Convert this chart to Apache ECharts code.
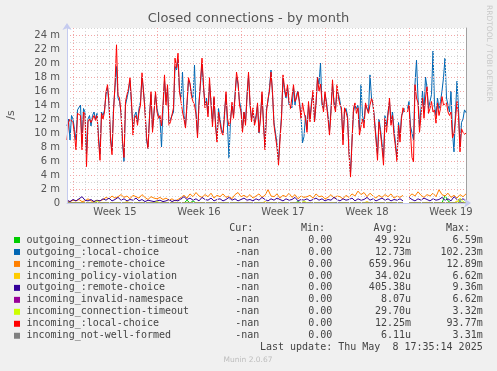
<!DOCTYPE html>
<html><head><meta charset="utf-8">
<script src="https://cdn.jsdelivr.net/npm/echarts@6/dist/echarts.min.js"></script>
<style>html,body{margin:0;padding:0;background:#f0f0f0}#c{width:497px;height:371px}</style>
</head><body><div id="c"></div>
<script>
// ---- data (values in milli-units per second) ----
const weekLabels = ['Week 15', 'Week 16', 'Week 17', 'Week 18', 'Week 19'];

// main series: one point per 3 h
const outgoingLocalChoice = [
 11.0,12.0,9.0,12.5,12.0,10.5,9.0,13.3,13.5,14.0,
 8.5,13.5,13.0,7.0,12.0,12.5,11.0,12.5,13.0,12.0,
 12.8,9.5,7.0,13.0,12.5,13.3,15.5,16.5,14.0,9.5,
 7.5,13.5,16.5,19.5,15.0,14.5,13.0,8.5,5.9,14.0,
 15.0,16.0,17.5,14.0,10.5,12.5,13.0,11.5,13.5,14.5,
 18.0,16.0,13.5,9.0,7.8,12.5,15.5,10.5,13.0,15.5,
 13.5,12.5,12.0,8.0,13.5,17.5,14.5,16.5,11.5,12.0,
 12.0,13.0,19.5,19.0,20.5,16.0,15.0,18.7,12.5,11.0,
 14.0,17.5,17.0,15.5,15.0,19.7,13.0,9.8,14.5,17.0,
 20.0,16.5,14.0,15.0,12.8,17.0,14.5,11.5,15.0,11.5,
 9.0,13.5,12.0,10.5,10.0,13.0,15.5,11.0,6.4,12.0,
 14.0,12.5,15.5,18.0,17.0,14.5,13.5,10.5,13.0,11.5,
 15.5,18.3,14.0,12.0,13.0,11.5,12.5,14.0,10.0,12.5,
 15.5,11.5,8.0,13.5,14.5,16.5,19.0,15.5,11.5,10.0,
 8.5,6.0,9.5,12.5,17.8,16.0,15.0,16.5,14.0,14.0,
 13.6,16.5,14.0,15.5,16.0,14.5,12.5,8.6,9.5,12.5,
 10.5,14.0,12.0,14.5,15.5,11.6,14.0,18.0,17.0,20.0,
 14.0,13.5,15.5,14.5,12.5,10.2,13.5,17.0,14.5,13.5,
 16.0,15.5,14.5,13.0,9.0,13.0,13.5,12.5,7.5,4.2,
 9.0,13.0,14.0,13.5,14.0,10.5,16.9,12.5,11.5,14.0,
 14.0,13.0,18.3,15.0,14.0,12.0,9.5,7.0,12.0,10.5,
 8.5,6.5,12.5,11.0,13.0,14.5,11.5,13.0,10.5,8.5,
 6.5,11.5,9.5,12.5,13.0,13.5,null,13.5,14.5,11.0,
 10.0,9.0,17.0,20.4,15.0,11.0,13.5,16.0,13.0,18.0,
 16.5,13.5,14.5,15.5,21.7,14.0,12.5,15.0,13.5,14.5,
 16.0,17.9,20.7,15.0,14.0,13.0,16.0,10.0,7.3,13.0,
 17.4,13.5,8.0,11.5,12.0,13.3,12.9];
const incomingLocalChoice = [
 9.0,11.5,12.0,12.0,11.5,9.7,7.6,12.8,13.0,12.5,
 7.6,13.0,12.6,5.2,11.6,12.0,11.5,12.0,12.5,11.8,
 12.5,9.0,6.1,12.8,12.0,13.0,15.9,16.9,14.5,9.0,
 6.9,13.0,17.0,22.6,15.4,15.0,12.8,9.0,6.5,14.5,
 15.5,16.4,17.9,14.5,9.7,12.1,12.5,11.1,13.0,14.0,
 18.6,15.9,13.0,9.5,7.8,12.1,15.9,10.1,12.8,15.9,
 13.0,12.1,12.5,11.0,14.0,18.3,14.0,16.9,11.1,11.6,
 11.6,13.6,20.7,19.3,21.4,15.9,14.5,13.0,12.0,10.7,
 14.3,17.9,17.1,15.2,14.5,14.0,12.7,9.3,14.0,17.5,
 20.7,16.9,13.6,14.5,12.3,17.9,14.1,10.9,15.2,11.0,
 8.7,13.0,11.5,10.1,9.7,12.5,15.9,12.1,11.0,11.6,
 14.4,12.1,15.0,18.7,17.3,14.0,13.0,10.1,13.0,11.1,
 15.0,18.7,14.5,11.6,13.6,11.1,12.0,14.3,10.1,12.1,
 15.9,11.1,7.6,13.0,14.9,16.0,18.7,15.9,11.1,9.5,
 7.9,5.4,9.0,12.1,18.3,16.5,15.2,16.9,14.5,13.5,
 13.6,16.9,14.5,15.0,15.9,14.1,12.1,14.3,13.0,12.0,
 10.1,14.5,11.6,14.0,16.1,11.6,14.3,17.9,16.0,17.0,
 14.5,13.0,15.9,14.0,12.1,9.7,13.0,17.6,14.0,13.0,
 16.9,15.0,14.0,13.6,8.3,13.6,13.0,12.1,7.0,3.7,
 8.7,13.6,14.3,12.8,13.6,9.7,11.0,12.0,10.7,14.3,
 13.5,12.8,14.0,14.9,14.3,11.6,9.0,6.1,11.6,10.0,
 7.9,5.4,12.1,10.1,12.5,15.0,11.1,12.5,9.7,8.0,
 5.9,11.1,8.7,12.1,13.6,13.0,null,13.0,14.0,10.0,
 6.5,5.9,16.9,15.0,14.3,10.1,12.5,15.0,12.1,15.0,
 16.6,12.8,13.5,14.5,13.0,13.3,11.4,14.3,12.5,13.5,
 15.2,14.0,14.0,14.3,13.0,12.5,13.0,9.3,10.0,12.0,
 14.5,12.5,7.3,10.6,10.1,9.8,10.0];

// minor series: one point per 6 h
const outgoingConnTimeout = [
 0,0,0,0,0,0,0,0,0,0, 0,0,0,0,0,0,0,0,0,0, 0,0,0,0,0,0,0,0,0,0, 0,0,0,0,0,0,0,0,0,0,
 0.4,0,0.3,0,0,0,0,0,0,0, 0,0,0,0,0,0,0,0,0,0, 0,0,0,0,0,0,0,0,0,0, 0,0,0,0,0,0,0,0.2,0,0,
 0,0,0,0,0,0,0,0,0,0, 0,0,0,0,0,0,0,0,0,0, 0,0,0,0,0,0,0,0,0,0, 0,0,0,null,0,0,0,0,0,0,
 0,0,0,0,0,0,1.1,0.3,0,0, 0,0.2,0,0];
const incomingRemoteChoice = [
 0.3,0.2,0.4,0.3,0.5,0.2,0.3,0.6,0.3,0.2, 0.4,0.3,0.5,0.8,0.6,1.0,0.7,0.9,1.2,0.8,
 1.0,0.6,1.1,0.9,0.7,1.2,0.8,0.5,0.9,0.7, 0.6,0.8,0.5,0.7,0.4,0.6,0.3,0.5,0.8,1.1,
 0.7,1.3,0.9,1.5,1.0,0.8,1.2,0.9,1.4,0.7, 1.1,0.9,1.3,0.8,1.0,0.6,1.2,1.5,0.9,1.1,
 0.8,1.2,0.7,1.0,1.3,0.8,1.1,1.9,1.0,0.9, 1.3,0.7,1.1,0.9,1.4,0.8,1.2,0.6,1.0,0.8,
 0.9,1.1,0.7,1.3,0.9,1.0,0.6,0.8,1.2,0.7, 1.0,0.9,0.6,1.1,0.8,1.3,1.0,1.7,1.2,1.5,
 0.9,1.4,1.0,0.7,1.1,0.8,1.2,0.9,1.3,0.7, 1.0,0.8,1.1,null,0.9,1.3,1.0,1.6,1.1,0.8,
 1.2,1.0,1.4,0.9,1.9,1.2,1.0,1.4,0.8,1.1, 0.7,1.2,0.9,1.3];
const incomingPolicyViolation = [
 0,0,0,0,0,0.1,0,0,0,0, 0,0,0,0,0,0,0,0,0,0, 0.2,0,0,0,0,0,0,0,0,0, 0,0,0,0,0,0,0,0,0,0,
 0,0,0,0,0,0,0,0,0,0, 0.1,0,0,0,0,0,0,0,0,0, 0,0,0,0,0,0,0.2,0,0,0, 0,0,0,0,0,0,0,0,0,0,
 0,0,0,0,0,0.1,0,0,0,0, 0,0,0,0,0,0,0,0,0,0, 0.2,0,0,0,0,0,0,0,0,0, 0,0,0,null,0,0,0,0,0,0,
 0.1,0,0,0,0,0,0,0,0,0, 0.3,0,0,0];
const outgoingRemoteChoice = [
 0.4,0.2,0.5,0.3,0.6,0.9,0.4,0.3,0.5,0.2, 0.4,0.3,0.6,0.4,0.7,0.3,0.5,0.8,0.4,0.6,
 0.3,0.5,0.4,0.7,0.3,0.5,0.2,0.4,0.3,0.2, 0.3,0.4,0.2,0.3,0.5,0.2,0.4,0.3,0.6,0.9,
 0.5,0.7,0.4,0.6,0.3,0.8,0.5,0.4,0.7,0.3, 0.5,0.6,0.3,0.5,0.8,0.4,0.6,0.3,0.5,0.7,
 0.4,0.5,0.3,0.6,0.4,0.8,0.5,0.3,0.6,0.4, 0.7,0.5,0.3,0.6,0.4,0.5,0.8,0.3,0.5,0.4,
 0.6,0.3,0.5,0.7,0.4,0.6,0.3,0.5,0.4,0.8, 0.5,0.3,0.6,0.4,0.5,0.7,0.3,0.6,0.4,0.5,
 0.8,0.4,0.6,0.3,0.5,0.7,0.4,0.6,0.3,0.5, 0.4,0.6,0.3,null,0.8,0.5,0.3,0.6,0.4,0.7,
 0.5,0.3,0.6,0.4,0.5,0.8,0.4,0.6,0.3,0.9, 0.5,0.4,0.6,0.3];
const incomingInvalidNamespace = [
 0,0,0,0,0,0,0,0,0,0, 0,0,0,0,0,0,0,0,0,0, 0,0,0,0,0,0,0,0,0,0, 0,0,0,0,0,0,0,0,0,0,
 0,0,0,0,0,0,0,0,0,0, 0,0,0,0,0,0,0,0,0,0, 0.1,0,0,0,0,0,0,0,0,0, 0,0,0,0,0,0,0,0,0,0,
 0,0,0,0,0,0,0,0,0,0, 0,0,0,0,0,0,0,0,0,0, 0,0,0,0,0,0,0,0,0,0, 0,0,0,null,0,0,0,0,0,0,
 0,0,0,0,0,0,0,0,0,0, 0,0,0,0];
const incomingConnTimeout = [
 0,0,0,0,0,0,0,0,0,0, 0.3,0,0,0,0,0,0,0,0,0, 0,0,0,0,0,0,0,0,0,0, 0.2,0,0,0,0,0,0,0,0,0,
 0,0,0,0,0,0,0,0,0,0, 0,0,0,0,0,0,0,0,0,0, 0,0,0,0,0,0,0,0,0,0, 0,0,0,0,0,0,0,0,0,0.3,
 0,0,0,0,0,0,0,0,0,0, 0,0,0,0,0,0,0,0,0,0, 0,0,0,0,0,0,0,0,0,0, 0,0,0,null,0,0,0,0,0,0,
 0,0,0,0,0,0,0,0,0,0, 0,0.7,0.2,0];
const incomingNotWellFormed = [
 0,0,0,0,0,0,0,0,0,0, 0,0,0,0,0,0,0,0,0,0, 0,0,0,0,0,0,0,0,0,0, 0,0,0,0,0,0,0,0,0,0,
 0,0,0,0,0,0,0,0,0,0, 0,0,0,0,0,0,0,0,0,0, 0,0,0,0,0,0,0,0,0,0, 0,0,0,0,0,0,0,0,0,0,
 0,0,0,0,0,0,0,0,0,0, 0.1,0,0,0,0,0,0,0,0,0, 0,0,0,0,0,0,0,0,0,0, 0,0,0,null,0,0,0,0,0,0,
 0,0,0,0,0,0,0,0,0,0, 0,0,0,0];

const seriesNames = ['outgoing_connection-timeout','outgoing_:local-choice','incoming_:remote-choice',
  'incoming_policy-violation','outgoing_:remote-choice','incoming_invalid-namespace',
  'incoming_connection-timeout','incoming_:local-choice','incoming_not-well-formed'];
const seriesColors = ['#00cc00','#0066b3','#ff8000','#ffcc00','#330099','#990099','#ccff00','#ff0000','#808080'];
const seriesData = [outgoingConnTimeout, outgoingLocalChoice, incomingRemoteChoice, incomingPolicyViolation,
  outgoingRemoteChoice, incomingInvalidNamespace, incomingConnTimeout, incomingLocalChoice, incomingNotWellFormed];
const curVals = ['-nan','-nan','-nan','-nan','-nan','-nan','-nan','-nan','-nan'];
const minVals = ['0.00','0.00','0.00','0.00','0.00','0.00','0.00','0.00','0.00'];
const avgVals = ['49.92u','12.73m','659.96u','34.02u','405.38u','8.07u','29.70u','12.25m','6.11u'];
const maxVals = ['6.59m','102.23m','12.89m','6.62m','9.36m','6.62m','3.32m','93.77m','3.31m'];
const yTickLabels = ['0','2 m','4 m','6 m','8 m','10 m','12 m','14 m','16 m','18 m','20 m','22 m','24 m'];
const lastUpdate = 'Last update: Thu May  8 17:35:14 2025';

// ---- build ----
const fineCats = Array.from({length: incomingLocalChoice.length}, (_, i) => String(i));
const coarseCats = Array.from({length: incomingRemoteChoice.length}, (_, i) => String(i));
const GRAY = '#d4d4d4', RED = '#f2a6a6', AXIS = '#c5cbef';
const SANS = '"DejaVu Sans", sans-serif', MONO = '"DejaVu Sans Mono", monospace';

function txt(x, y, text, opt) {
  opt = opt || {};
  return {type: 'text', x: x, y: y, rotation: opt.rotation || 0, silent: true,
    style: {text: text, fill: opt.fill || '#444', font: opt.font || ('10px ' + MONO),
      align: opt.align || 'left', textAlign: opt.align || 'left',
      verticalAlign: 'middle', textVerticalAlign: 'middle'}};
}
const graphics = [];
graphics.push(txt(248.5, 19, 'Closed connections - by month', {font: '13px ' + SANS, fill: '#555', align: 'center'}));
graphics.push(txt(11.5, 115, '/s', {font: '11px ' + SANS, fill: '#555', align: 'center', rotation: Math.PI / 2}));
graphics.push(txt(489, 5, 'RRDTOOL / TOBI OETIKER', {font: '7.5px ' + SANS, fill: '#c8c8c8', align: 'left', rotation: -Math.PI / 2}));
const hdrY = 228.3;
graphics.push(txt(253.3, hdrY, 'Cur:', {align: 'right'}));
graphics.push(txt(325, hdrY, 'Min:', {align: 'right'}));
graphics.push(txt(397.7, hdrY, 'Avg:', {align: 'right'}));
graphics.push(txt(470, hdrY, 'Max:', {align: 'right'}));
seriesNames.forEach((nm, i) => {
  const y = 240 + 11.97 * i;
  graphics.push({type: 'rect', silent: true, shape: {x: 14, y: y - 3, width: 6, height: 6}, style: {fill: seriesColors[i]}});
  graphics.push(txt(26.5, y, nm));
  graphics.push(txt(259.3, y, curVals[i], {align: 'right'}));
  graphics.push(txt(332.3, y, minVals[i], {align: 'right'}));
  graphics.push(txt(411, y, avgVals[i], {align: 'right'}));
  graphics.push(txt(482.7, y, maxVals[i], {align: 'right'}));
});
graphics.push(txt(482.7, 347.7, lastUpdate, {align: 'right'}));
graphics.push(txt(248, 360, 'Munin 2.0.67', {font: '7.5px ' + SANS, fill: '#bdbdbd', align: 'center'}));

const chart = echarts.init(document.getElementById('c'), null, {renderer: 'canvas'});
chart.setOption({
  animation: false,
  backgroundColor: '#f0f0f0',
  grid: {left: 67, right: 31, top: 28, bottom: 168, show: true, backgroundColor: '#ffffff', borderWidth: 0},
  xAxis: [
    {type: 'category', data: fineCats, boundaryGap: false, position: 'bottom', z: 3,
     axisLine: {show: true, lineStyle: {color: AXIS, width: 1}, symbol: ['none', 'arrow'], symbolSize: [7, 7], symbolOffset: [0, 5]},
     axisTick: {show: false},
     axisLabel: {interval: (i) => i % 56 === 32, formatter: (v, i) => weekLabels[(i - 32) / 56] || '',
       color: '#555', fontSize: 10, fontFamily: SANS, margin: 4},
     splitLine: {show: true, interval: (i) => i % 8 === 4 && i % 56 !== 4, lineStyle: {color: GRAY, type: [1, 2], width: 1}}},
    {type: 'category', data: coarseCats, boundaryGap: false, position: 'bottom',
     axisLine: {show: false}, axisTick: {show: false}, axisLabel: {show: false},
     splitLine: {show: true, interval: (i) => i % 28 === 2, lineStyle: {color: RED, type: [1, 2], width: 1}}}
  ],
  yAxis: [
    {type: 'value', min: 0, max: 25, interval: 1, position: 'left',
     axisLine: {show: false}, axisTick: {show: false}, axisLabel: {show: false},
     splitLine: {show: true, lineStyle: {color: GRAY, type: [1, 2], width: 1}}},
    {type: 'value', min: 0, max: 25, interval: 2, position: 'left', z: 3,
     axisLine: {show: true, lineStyle: {color: AXIS, width: 1}, symbol: ['none', 'arrow'], symbolSize: [7, 7], symbolOffset: [0, 5]},
     axisTick: {show: false},
     axisLabel: {showMaxLabel: false, formatter: (v) => yTickLabels[v / 2] || '', color: '#555', fontSize: 10, fontFamily: SANS, margin: 7},
     splitLine: {show: true, showMaxLine: false, showMinLine: false, lineStyle: {color: RED, type: [1, 2], width: 1}}},
    {type: 'value', min: 0, max: 25, position: 'right',
     axisLine: {show: true, onZero: false, lineStyle: {color: '#a0a0a0', width: 1}}, axisTick: {show: false},
     axisLabel: {show: false}, splitLine: {show: false}}
  ],
  series: seriesNames.map((nm, i) => ({
    name: nm, type: 'line', xAxisIndex: seriesData[i].length === fineCats.length ? 0 : 1, yAxisIndex: 1,
    data: seriesData[i], symbol: 'none', connectNulls: false,
    lineStyle: {width: 1, color: seriesColors[i]}, itemStyle: {color: seriesColors[i]}, z: 2 + i * 0.01
  })),
  graphic: graphics
});
</script></body></html>
